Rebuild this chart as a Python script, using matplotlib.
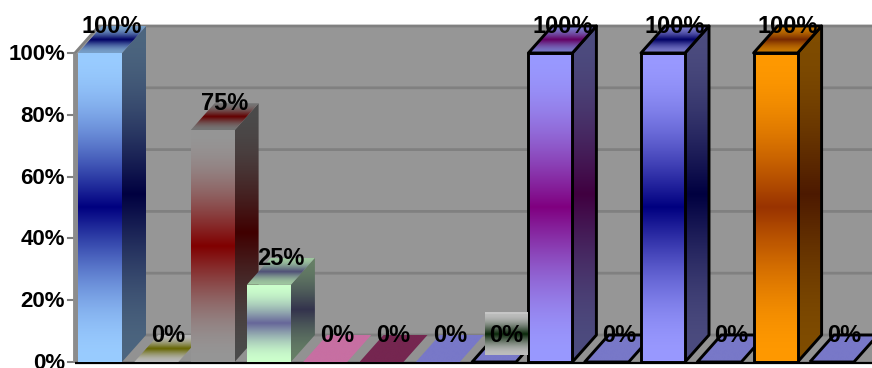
import numpy as np
import matplotlib
matplotlib.use('Agg')
import matplotlib.pyplot as plt
from matplotlib.colors import to_rgb
from matplotlib.patches import Polygon

# Chart data
values = [100, 0, 75, 25, 0, 0, 0, 0, 100, 0, 100, 0, 100, 0]
edge_colors = ['#99CCFF', '#B8B8B8', '#969696', '#CCFFCC', '#C76FA2', '#752650',
               '#7878C8', '#7878C8', '#9999FF', '#7878C8', '#9999FF', '#7878C8',
               '#FF9900', '#7878C8']
mid_colors = ['#000080', '#666600', '#800000', '#666699', '#C76FA2', '#752650',
              '#7878C8', '#7878C8', '#800080', '#7878C8', '#000080', '#7878C8',
              '#993300', '#7878C8']
outlined = [False, False, False, False, False, False, False, True,
            True, True, True, True, True, True]
y_ticks = [0, 20, 40, 60, 80, 100]
y_tick_labels = ['0%', '20%', '40%', '60%', '80%', '100%']

WIDTH, HEIGHT = 872, 368
STEP_PX = 56.3
UNIT_PX = 3.09
DEPTH_X = 24 / STEP_PX
DEPTH_Y = 27 / UNIT_PX
HALF_BAR = 22 / STEP_PX
WALL_X = -25 / STEP_PX
TEXT_DROP = 1.5 / UNIT_PX

WALL = '#969696'
GRID = '#808080'
SIDE_WALL = '#A0A0A0'
FONT = 'Liberation Sans'


def gradient_image(edge, mid, factor):
    # Edge colour at both ends, mid colour in a narrow band through the centre
    f = np.abs(np.linspace(-1, 1, 256))
    mix = np.sin(f * np.pi / 2)[:, None, None]
    return np.clip((np.array(to_rgb(mid)) + (np.array(to_rgb(edge)) - np.array(to_rgb(mid))) * mix) * factor, 0, 1)


def gradient_poly(ax, points, edge, mid, factor, zorder, outline):
    xs = [p[0] for p in points]
    ys = [p[1] for p in points]
    im = ax.imshow(gradient_image(edge, mid, factor), aspect='auto', interpolation='bilinear',
                   origin='lower', extent=(min(xs), max(xs), min(ys), max(ys)), zorder=zorder)
    clip = Polygon(points, closed=True, transform=ax.transData, facecolor='none', edgecolor='none')
    ax.add_patch(clip)
    im.set_clip_path(clip)
    if outline:
        ax.add_patch(Polygon(points, closed=True, fill=False, edgecolor='black',
                             linewidth=2.1, zorder=zorder + 0.1, joinstyle='round'))


fig = plt.figure(figsize=(WIDTH / 100, HEIGHT / 100), dpi=100)
ax = fig.add_axes([0, 0, 1, 1])
x_left = -100 / STEP_PX
ax.axis('off')

# Back wall, side wall and floor
x_end = x_left + WIDTH / STEP_PX + 1
ax.add_patch(Polygon([(WALL_X + DEPTH_X, DEPTH_Y), (x_end, DEPTH_Y),
                      (x_end, 100 + DEPTH_Y), (WALL_X + DEPTH_X, 100 + DEPTH_Y)],
                     facecolor=WALL, edgecolor='none', zorder=1))
ax.add_patch(Polygon([(WALL_X, 0), (WALL_X + DEPTH_X, DEPTH_Y),
                      (WALL_X + DEPTH_X, 100 + DEPTH_Y), (WALL_X, 100)],
                     facecolor=SIDE_WALL, edgecolor='none', zorder=1))
ax.add_patch(Polygon([(WALL_X, 0), (x_end, 0), (x_end, DEPTH_Y), (WALL_X + DEPTH_X, DEPTH_Y)],
                     facecolor='#929292', edgecolor='none', zorder=1))

# Gridlines run along the side wall and across the back wall
for tick in y_ticks:
    ax.plot([WALL_X, WALL_X + DEPTH_X, x_end], [tick, tick + DEPTH_Y, tick + DEPTH_Y],
            color=GRID, linewidth=2, zorder=2, solid_capstyle='butt')
    ax.plot([WALL_X - 7 / STEP_PX, WALL_X], [tick, tick], color=GRID, linewidth=1.5, zorder=2)

ax.plot([WALL_X, WALL_X], [0, 100], color='#8C8C8C', linewidth=3.5, zorder=2, solid_capstyle='butt')
ax.plot([WALL_X, x_end], [-0.3, -0.3], color='black', linewidth=1.6, zorder=3, solid_capstyle='butt')

# Bars, drawn left to right so each one covers the previous depth
for i, value in enumerate(values):
    z = 4 + i
    x0, x1 = i - HALF_BAR, i + HALF_BAR
    edge, mid, line = edge_colors[i], mid_colors[i], outlined[i]
    if value > 0:
        gradient_poly(ax, [(x1, 0), (x1 + DEPTH_X, DEPTH_Y), (x1 + DEPTH_X, value + DEPTH_Y), (x1, value)],
                      edge, mid, 0.5, z, line)
        gradient_poly(ax, [(x0, 0), (x1, 0), (x1, value), (x0, value)],
                      edge, mid, 1.0, z + 0.2, line)
    gradient_poly(ax, [(x0, value), (x1, value), (x1 + DEPTH_X, value + DEPTH_Y), (x0 + DEPTH_X, value + DEPTH_Y)],
                  edge, mid, 0.78 if value > 0 else 1.0, z + 0.4, line)

# The label of the eighth bar sits on its own shaded box
label_x = 7 + DEPTH_X / 2
box_l, box_r = label_x - 21.5 / STEP_PX, label_x + 21.5 / STEP_PX
gradient_poly(ax, [(box_l, 7 / UNIT_PX), (box_r, 7 / UNIT_PX), (box_r, 48 / UNIT_PX), (box_l, 48 / UNIT_PX)],
              '#BDBDBD', '#0A280A', 1.0, 30, False)
ax.plot([box_l, box_r], [49.5 / UNIT_PX, 49.5 / UNIT_PX], color='#C8C8C8', linewidth=1.4, zorder=30,
        solid_capstyle='butt')

for i, value in enumerate(values):
    ax.text(i + DEPTH_X / 2, value + DEPTH_Y - TEXT_DROP / 2, f'{value}%', ha='center', va='center',
            fontsize=17, fontweight='bold', family=FONT, color='black', zorder=40)

for tick, label in zip(y_ticks, y_tick_labels):
    ax.text(WALL_X - 10 / STEP_PX, tick - TEXT_DROP, label, ha='right', va='center',
            fontsize=16, fontweight='bold', family=FONT, color='black', zorder=40, clip_on=False)

ax.set_xlim(x_left, x_left + WIDTH / STEP_PX)
ax.set_ylim(-6 / UNIT_PX, 362 / UNIT_PX)
fig.savefig('out.png', dpi=100, facecolor='white')
